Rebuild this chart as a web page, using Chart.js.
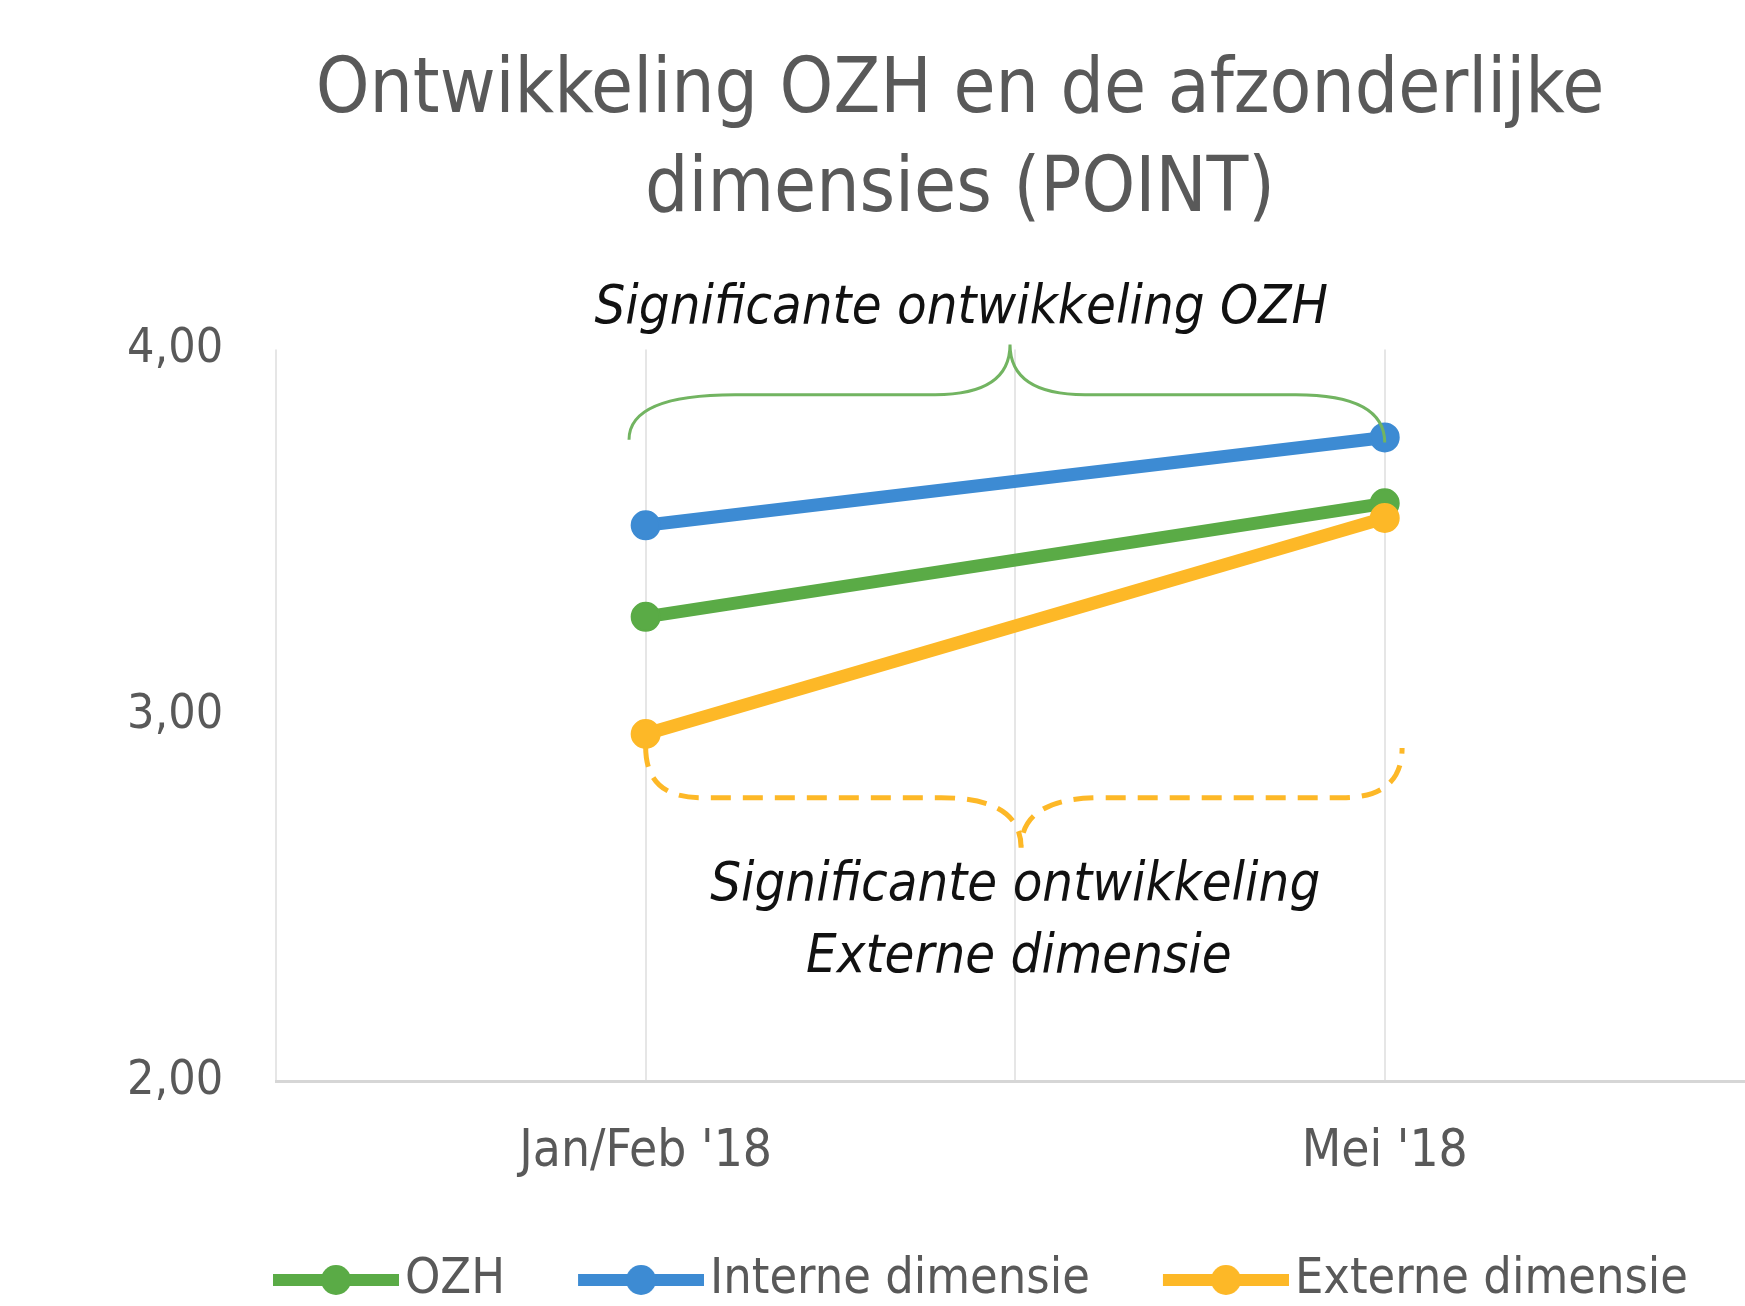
<!DOCTYPE html>
<html>
<head>
<meta charset="utf-8">
<script src="https://cdn.jsdelivr.net/npm/chart.js@4.4.1/dist/chart.umd.min.js"></script>
<style>
  html, body { margin: 0; padding: 0; background: #fff; overflow: hidden; }
  /* the original chart was wider than the picture, its right side is cut off */
  #wrap { width: 1846px; height: 1315px; position: relative; }
</style>
</head>
<body>
<div id="wrap"><canvas id="chart"></canvas></div>
<script>
const categories = ["Jan/Feb '18", "Mei '18"];
const ozh = [3.27, 3.58];
const interne = [3.52, 3.76];
const externe = [2.95, 3.54];
const seriesNames = ['OZH', 'Interne dimensie', 'Externe dimensie'];
const yTicks = [2, 3, 4];
const titleLines = ['Ontwikkeling OZH en de afzonderlijke', 'dimensies (POINT)'];
const noteTop = 'Significante ontwikkeling OZH';
const noteBottom = ['Significante ontwikkeling', 'Externe dimensie'];

const FONT = "'DejaVu Sans Condensed', 'Liberation Sans Narrow', 'DejaVu Sans', sans-serif";
const colors = ['#5aab46', '#3d8bd3', '#fdb827'];
const grey = '#595959';

// the categories sit on every second grid slot, like the excel axis did
const slot = i => 2 * i + 1;
const toPoints = vals => vals.map((v, i) => ({ x: slot(i), y: v }));

// line + dot legend symbol (left part transparent so the line ends close to the text)
function legendMark(color) {
  const c = document.createElement('canvas');
  c.width = 186; c.height = 34;
  const g = c.getContext('2d');
  g.strokeStyle = color; g.lineWidth = 12;
  g.beginPath(); g.moveTo(60, 17); g.lineTo(186, 17); g.stroke();
  g.fillStyle = color;
  g.beginPath(); g.arc(123, 17, 15, 0, Math.PI * 2); g.fill();
  return c;
}

// curly brace, ends at (x1,y1) and (x2,y2), bar at yBar, tip at (xTip,yTip)
function brace(ctx, xs, ys, b) {
  const x1 = xs.getPixelForValue(b.x1), x2 = xs.getPixelForValue(b.x2);
  const xt = xs.getPixelForValue(b.xTip);
  const y1 = ys.getPixelForValue(b.y1), y2 = ys.getPixelForValue(b.y2);
  const yb = ys.getPixelForValue(b.yBar), yt = ys.getPixelForValue(b.yTip);
  ctx.beginPath();
  ctx.moveTo(x1, y1);
  ctx.quadraticCurveTo(x1, yb, x1 + b.r1, yb);
  ctx.lineTo(xt - b.rt, yb);
  ctx.quadraticCurveTo(xt, yb, xt, yt);
  ctx.quadraticCurveTo(xt, yb, xt + b.rt, yb);
  ctx.lineTo(x2 - b.r2, yb);
  ctx.quadraticCurveTo(x2, yb, x2, y2);
  ctx.stroke();
}

const notes = {
  id: 'notes',
  afterDatasetsDraw(chart) {
    const ctx = chart.ctx, xs = chart.scales.x, ys = chart.scales.y;
    ctx.save();
    ctx.lineCap = 'butt';
    // OZH brace
    ctx.strokeStyle = '#72b461';
    ctx.lineWidth = 3;
    brace(ctx, xs, ys, { x1: 0.955, y1: 3.754, x2: 3.0, y2: 3.746, yBar: 3.877, xTip: 1.986, yTip: 4.014, r1: 106, r2: 89, rt: 75 });
    // Externe brace, dashed
    ctx.strokeStyle = colors[2];
    ctx.lineWidth = 5;
    ctx.setLineDash([20, 12]);
    brace(ctx, xs, ys, { x1: 1.0, y1: 2.915, x2: 3.047, y2: 2.912, yBar: 2.776, xTip: 2.016, yTip: 2.639, r1: 55, r2: 60, rt: 80 });
    ctx.setLineDash([]);

    ctx.fillStyle = '#111';
    ctx.textAlign = 'center';
    ctx.textBaseline = 'alphabetic';
    ctx.font = 'italic 54px ' + FONT;
    ctx.fillText(noteTop, xs.getPixelForValue(1.854), ys.getPixelForValue(4.074));
    ctx.fillText(noteBottom[0], xs.getPixelForValue(2.0), ys.getPixelForValue(2.497));
    ctx.fillText(noteBottom[1], xs.getPixelForValue(2.01), ys.getPixelForValue(2.30));
    ctx.restore();
  }
};

const datasets = [ozh, interne, externe].map((vals, i) => ({
  label: seriesNames[i],
  data: toPoints(vals),
  borderColor: colors[i],
  backgroundColor: colors[i],
  pointBackgroundColor: colors[i],
  borderWidth: 13,
  pointRadius: 14,
  pointHoverRadius: 14,
  pointBorderWidth: 2,
  tension: 0,
  order: 2 - i
}));

new Chart(document.getElementById('chart'), {
  type: 'line',
  data: { datasets: datasets },
  options: {
    responsive: true,
    maintainAspectRatio: false,
    animation: false,
    devicePixelRatio: 1,
    layout: { padding: { left: 74, right: 0, top: 0, bottom: 0 } },
    scales: {
      x: {
        type: 'linear',
        min: 0,
        max: 4.14,
        ticks: {
          stepSize: 1,
          autoSkip: false,
          maxRotation: 0,
          padding: 40,
          color: grey,
          font: { family: FONT, size: 51 },
          callback: v => (Number.isInteger(v) && v % 2 === 1) ? categories[(v - 1) / 2] : ''
        },
        grid: { color: '#e6e6e6', lineWidth: 2, drawTicks: false },
        border: { color: '#d6d6d6', width: 3 }
      },
      y: {
        min: 2,
        max: 4,
        afterBuildTicks: s => { s.ticks = yTicks.map(v => ({ value: v })); },
        ticks: {
          padding: 53,
          color: grey,
          font: { family: FONT, size: 48 },
          callback: v => v.toFixed(2).replace('.', ',')
        },
        grid: { display: false, drawTicks: false },
        border: { display: false }
      }
    },
    plugins: {
      title: {
        display: true,
        text: titleLines,
        color: grey,
        font: { family: FONT, size: 76, weight: 'normal', lineHeight: 1.3 },
        padding: { top: 43, bottom: 109 }
      },
      legend: {
        position: 'bottom',
        labels: {
          usePointStyle: true,
          pointStyleWidth: 148,
          padding: 32,
          color: grey,
          font: { family: FONT, size: 50 },
          generateLabels: chart => chart.data.datasets.map((ds, i) => ({
            text: ds.label,
            pointStyle: legendMark(colors[i]),
            fillStyle: colors[i],
            strokeStyle: colors[i],
            lineWidth: 0,
            hidden: false,
            datasetIndex: i,
            fontColor: grey
          }))
        }
      },
      tooltip: { enabled: false }
    }
  },
  plugins: [notes]
});
</script>
</body>
</html>
